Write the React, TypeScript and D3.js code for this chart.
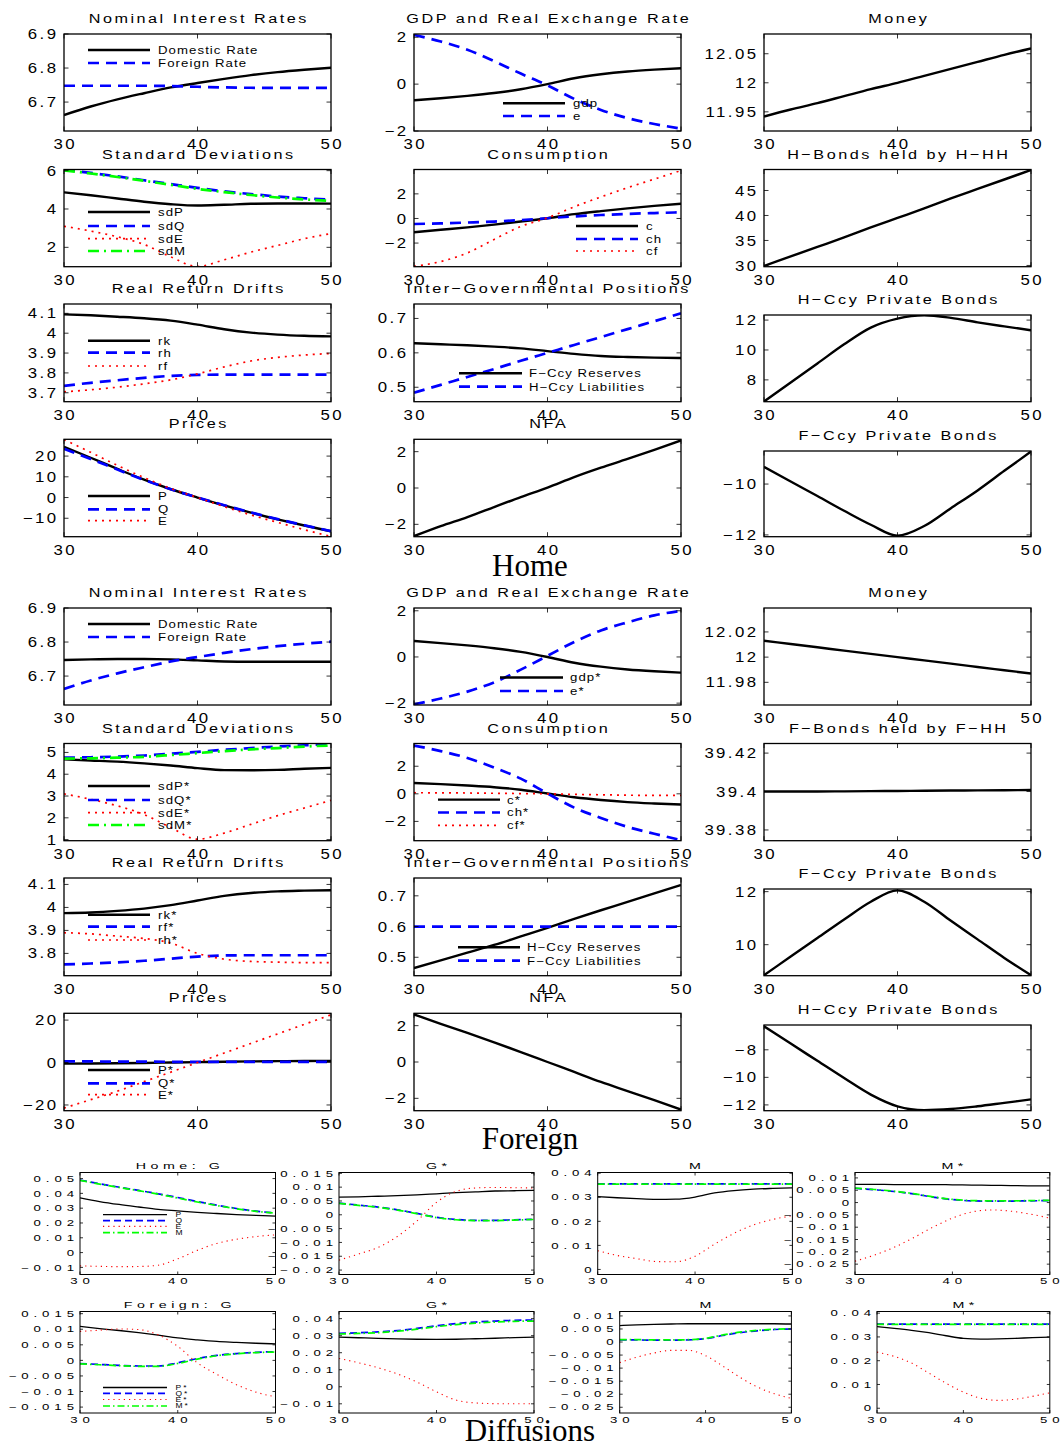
import React from "react";
import * as d3 from "d3";

// periods on the horizontal axis (every second period is sampled)
const periods = [30, 32, 34, 36, 38, 40, 42, 44, 46, 48, 50];
const xTicks = [30, 40, 50];

// ---------- Home ----------
const hNomDomestic = [6.662, 6.687, 6.708, 6.726, 6.743, 6.756, 6.768, 6.779, 6.788, 6.795, 6.801];
const hNomForeign = [6.748, 6.748, 6.748, 6.748, 6.747, 6.745, 6.743, 6.742, 6.742, 6.742, 6.742];
const hGdp = [-0.69, -0.6, -0.5, -0.38, -0.22, 0.0, 0.25, 0.42, 0.54, 0.62, 0.68];
const hExch = [2.1, 1.82, 1.47, 0.98, 0.45, -0.05, -0.63, -1.1, -1.45, -1.7, -1.9];
const hMoney = [11.942, 11.954, 11.965, 11.977, 11.989, 12.0, 12.012, 12.024, 12.036, 12.048, 12.059];
const hSdP = [4.87, 4.72, 4.55, 4.38, 4.25, 4.18, 4.22, 4.27, 4.29, 4.29, 4.28];
const hSdQ = [6.05, 5.88, 5.7, 5.5, 5.3, 5.1, 4.92, 4.78, 4.65, 4.56, 4.48];
const hSdE = [3.1, 2.85, 2.55, 2.15, 1.5, 1.0, 1.35, 1.75, 2.1, 2.45, 2.72];
const hSdM = [6.02, 5.85, 5.67, 5.47, 5.26, 5.05, 4.88, 4.73, 4.6, 4.5, 4.42];
const hC = [-1.12, -0.92, -0.72, -0.5, -0.25, 0.02, 0.35, 0.6, 0.82, 1.02, 1.2];
const hCh = [-0.45, -0.4, -0.33, -0.25, -0.13, 0.02, 0.17, 0.28, 0.37, 0.44, 0.5];
const hCf = [-3.9, -3.5, -2.8, -1.7, -0.65, 0.05, 0.95, 1.75, 2.5, 3.2, 3.9];
const hBondsHH = [29.9, 31.8, 33.7, 35.6, 37.6, 39.5, 41.4, 43.4, 45.3, 47.2, 49.1];
const hRk = [4.095, 4.09, 4.083, 4.075, 4.063, 4.043, 4.02, 4.003, 3.993, 3.987, 3.984];
const hRh = [3.735, 3.75, 3.763, 3.775, 3.785, 3.79, 3.791, 3.791, 3.791, 3.791, 3.791];
const hRf = [3.705, 3.715, 3.728, 3.745, 3.765, 3.795, 3.83, 3.86, 3.878, 3.89, 3.898];
const hResF = [0.628, 0.625, 0.622, 0.618, 0.613, 0.605, 0.597, 0.591, 0.588, 0.586, 0.585];
const hLiabH = [0.484, 0.507, 0.53, 0.553, 0.577, 0.6, 0.623, 0.646, 0.669, 0.692, 0.715];
const hPrivH = [6.55, 7.83, 9.1, 10.38, 11.5, 12.1, 12.32, 12.15, 11.85, 11.58, 11.32];
const hP = [24.5, 19.2, 13.8, 8.6, 4.0, 0, -3.8, -7.3, -10.5, -13.5, -16.3];
const hQ = [23.5, 18.6, 13.5, 8.5, 4.0, 0, -3.7, -7.2, -10.4, -13.4, -16.2];
const hE = [28, 21.8, 15.5, 9.6, 4.4, 0, -4.4, -8.4, -12, -15.5, -18.8];
const hNfa = [-2.65, -2.1, -1.6, -1.05, -0.5, 0.02, 0.6, 1.12, 1.6, 2.1, 2.62];
const hPrivF = [-9.32, -9.9, -10.47, -11.05, -11.6, -12.03, -11.65, -10.95, -10.25, -9.48, -8.72];

// ---------- Foreign ----------
const fNomDomestic = [6.747, 6.749, 6.75, 6.75, 6.749, 6.746, 6.743, 6.742, 6.742, 6.742, 6.742];
const fNomForeign = [6.662, 6.687, 6.708, 6.726, 6.743, 6.756, 6.768, 6.779, 6.788, 6.795, 6.801];
const fGdp = [0.69, 0.6, 0.5, 0.38, 0.22, 0.0, -0.25, -0.42, -0.54, -0.62, -0.68];
const fExch = [-2.05, -1.8, -1.5, -1.1, -0.55, 0.05, 0.65, 1.15, 1.5, 1.8, 2.0];
const fMoney = [12.013, 12.0104, 12.0078, 12.0052, 12.0026, 12.0, 11.9974, 11.9948, 11.9922, 11.9896, 11.987];
const fSdP = [4.68, 4.63, 4.58, 4.5, 4.4, 4.28, 4.19, 4.18, 4.2, 4.25, 4.29];
const fSdQ = [4.76, 4.78, 4.81, 4.86, 4.94, 5.03, 5.12, 5.2, 5.27, 5.33, 5.38];
const fSdE = [3.1, 2.85, 2.55, 2.15, 1.55, 1.02, 1.3, 1.7, 2.1, 2.45, 2.8];
const fSdM = [4.72, 4.73, 4.76, 4.8, 4.88, 4.97, 5.06, 5.14, 5.2, 5.27, 5.32];
const fC = [0.78, 0.7, 0.6, 0.48, 0.3, 0.02, -0.25, -0.45, -0.6, -0.7, -0.78];
const fCh = [3.5, 3.1, 2.6, 1.9, 1.1, 0.02, -1.0, -1.75, -2.4, -2.9, -3.35];
const fCf = [0.08, 0.07, 0.06, 0.04, 0.02, 0.0, -0.04, -0.07, -0.1, -0.11, -0.12];
const fBondsHH = [39.4, 39.4, 39.4, 39.4001, 39.4002, 39.4003, 39.4004, 39.4005, 39.4006, 39.4007, 39.4008];
const fRk = [3.975, 3.978, 3.985, 3.995, 4.01, 4.03, 4.05, 4.063, 4.07, 4.073, 4.075];
const fRf = [3.752, 3.756, 3.761, 3.768, 3.777, 3.786, 3.791, 3.792, 3.792, 3.792, 3.792];
const fRh = [3.89, 3.885, 3.875, 3.865, 3.845, 3.8, 3.775, 3.765, 3.762, 3.76, 3.76];
const fResH = [0.465, 0.49, 0.515, 0.54, 0.568, 0.596, 0.625, 0.653, 0.68, 0.708, 0.735];
const fLiabF = [0.6, 0.6, 0.6, 0.6, 0.6, 0.6, 0.6, 0.6, 0.6, 0.6, 0.6];
const fPrivF = [8.85, 9.55, 10.25, 10.95, 11.62, 12.05, 11.62, 10.9, 10.2, 9.5, 8.85];
const fP = [-0.5, -0.45, -0.35, -0.2, 0.0, 0.2, 0.4, 0.55, 0.65, 0.75, 0.8];
const fQ = [0.5, 0.5, 0.45, 0.4, 0.35, 0.3, 0.3, 0.3, 0.3, 0.3, 0.3];
const fE = [-21.5, -17.5, -13.5, -9, -4.5, 0, 4.5, 9, 13.5, 18, 22.5];
const fNfa = [2.62, 2.1, 1.6, 1.08, 0.55, 0.0, -0.55, -1.1, -1.6, -2.1, -2.62];
const fPrivH = [-6.3, -7.55, -8.8, -10.05, -11.25, -12.1, -12.38, -12.3, -12.1, -11.85, -11.6];

// ---------- Diffusions ----------
const dHomeG_P = [0.037, 0.0345, 0.0325, 0.0308, 0.0292, 0.0282, 0.0272, 0.0264, 0.0257, 0.0251, 0.0246];
const dHomeG_Q = [0.049, 0.0465, 0.0442, 0.042, 0.0397, 0.0372, 0.0345, 0.032, 0.0298, 0.028, 0.0268];
const dHomeG_E = [-0.009, -0.0093, -0.0095, -0.0094, -0.0085, -0.0042, 0.0015, 0.0062, 0.009, 0.0108, 0.012];
const dHomeG_M = [0.0488, 0.0463, 0.044, 0.0418, 0.0395, 0.0368, 0.0342, 0.0318, 0.0296, 0.0279, 0.0266];
const dHomeGs_P = [0.0064, 0.0065, 0.0067, 0.0069, 0.0072, 0.0076, 0.008, 0.0083, 0.0086, 0.0087, 0.0088];
const dHomeGs_Q = [0.0042, 0.0035, 0.0028, 0.0018, 0.0005, -0.0009, -0.0017, -0.002, -0.002, -0.0018, -0.0016];
const dHomeGs_E = [-0.0164, -0.0142, -0.0118, -0.0078, -0.0022, 0.0045, 0.0085, 0.0097, 0.0099, 0.0098, 0.0097];
const dHomeGs_M = [0.0041, 0.0034, 0.0027, 0.0017, 0.0004, -0.001, -0.0018, -0.0021, -0.0021, -0.0019, -0.0017];
const dHomeM_P = [0.0303, 0.0298, 0.0294, 0.0291, 0.0292, 0.0301, 0.0318, 0.0328, 0.0334, 0.0337, 0.0339];
const dHomeM_Q = [0.0356, 0.0356, 0.0356, 0.0356, 0.0356, 0.0356, 0.0356, 0.0356, 0.0356, 0.0356, 0.0356];
const dHomeM_E = [0.0078, 0.0058, 0.0045, 0.0033, 0.0032, 0.0055, 0.0105, 0.015, 0.0185, 0.0208, 0.0223];
const dHomeM_M = [0.0355, 0.0355, 0.0355, 0.0355, 0.0355, 0.0355, 0.0355, 0.0355, 0.0355, 0.0355, 0.0355];
const dHomeMs_P = [0.0074, 0.0074, 0.0073, 0.0073, 0.0073, 0.0072, 0.0071, 0.007, 0.0069, 0.0068, 0.0068];
const dHomeMs_Q = [0.0058, 0.0052, 0.0045, 0.0035, 0.0022, 0.0012, 0.0007, 0.0006, 0.0006, 0.0007, 0.0008];
const dHomeMs_E = [-0.0238, -0.0213, -0.0182, -0.0143, -0.01, -0.0063, -0.0038, -0.003, -0.0035, -0.0047, -0.0063];
const dHomeMs_M = [0.0059, 0.0053, 0.0046, 0.0036, 0.0023, 0.0013, 0.0008, 0.0007, 0.0007, 0.0008, 0.0009];
const dForG_P = [0.0109, 0.0102, 0.0096, 0.0089, 0.0081, 0.0072, 0.0066, 0.0061, 0.0058, 0.0055, 0.0053];
const dForG_Q = [-0.001, -0.0013, -0.0016, -0.0018, -0.0018, -0.0008, 0.0006, 0.0016, 0.0022, 0.0026, 0.0028];
const dForG_E = [0.0093, 0.0097, 0.0101, 0.0099, 0.0082, 0.0045, -0.0008, -0.0045, -0.0078, -0.0102, -0.0117];
const dForG_M = [-0.0011, -0.0014, -0.0017, -0.0019, -0.0019, -0.001, 0.0004, 0.0015, 0.0021, 0.0025, 0.0027];
const dForGs_P = [0.0292, 0.0288, 0.0284, 0.0281, 0.0279, 0.0278, 0.0279, 0.0282, 0.0285, 0.0289, 0.0292];
const dForGs_Q = [0.0314, 0.0317, 0.0322, 0.033, 0.0343, 0.0358, 0.0371, 0.038, 0.0386, 0.039, 0.0392];
const dForGs_E = [0.0166, 0.0141, 0.0112, 0.0075, 0.0028, -0.003, -0.0078, -0.0095, -0.0099, -0.01, -0.01];
const dForGs_M = [0.031, 0.0313, 0.0318, 0.0326, 0.0338, 0.0353, 0.0365, 0.0374, 0.038, 0.0384, 0.0386];
const dForM_P = [0.0063, 0.0066, 0.0068, 0.0069, 0.007, 0.007, 0.007, 0.007, 0.007, 0.007, 0.0069];
const dForM_Q = [0.0008, 0.0008, 0.0007, 0.0007, 0.0008, 0.0013, 0.0025, 0.0036, 0.0043, 0.0048, 0.005];
const dForM_E = [-0.0079, -0.0058, -0.0042, -0.0032, -0.0032, -0.0052, -0.0092, -0.0135, -0.0172, -0.0198, -0.0216];
const dForM_M = [0.0009, 0.0009, 0.0008, 0.0008, 0.0009, 0.0014, 0.0027, 0.0038, 0.0045, 0.0049, 0.0051];
const dForMs_P = [0.0343, 0.0336, 0.0328, 0.0318, 0.0305, 0.0294, 0.0291, 0.0292, 0.0294, 0.0297, 0.0299];
const dForMs_Q = [0.0354, 0.0354, 0.0354, 0.0354, 0.0354, 0.0354, 0.0354, 0.0354, 0.0354, 0.0354, 0.0354];
const dForMs_E = [0.0236, 0.0218, 0.019, 0.0148, 0.0105, 0.0068, 0.0042, 0.0033, 0.0038, 0.005, 0.0065];
const dForMs_M = [0.0353, 0.0353, 0.0353, 0.0353, 0.0353, 0.0353, 0.0353, 0.0353, 0.0353, 0.0353, 0.0353];

const FONT = "'Liberation Sans', Arial, Helvetica, sans-serif";
const SERIF = "'Liberation Serif', 'Times New Roman', serif";

type Sty = "k" | "b" | "r" | "g";
interface Series { values: number[]; sty: Sty; label?: string }
interface Legend { x1: number; x2: number; tx: number; ys: number[] }
interface Panel {
  title: string;
  left: number; right: number; top: number; bottom: number;
  yDomain: [number, number];
  yTicks: number[];
  series: Series[];
  legend?: Legend;
  small?: boolean;
}

function lineStyle(s: Sty, sm: boolean) {
  if (s === "k") return { stroke: "#000", strokeWidth: sm ? 1.3 : 2.4 };
  if (s === "b") return { stroke: "#0000ff", strokeWidth: sm ? 1.7 : 2.7, strokeDasharray: sm ? "7 4" : "11 7" };
  if (s === "r") return { stroke: "#ff0000", strokeWidth: sm ? 1.1 : 1.7, strokeDasharray: sm ? "1.2 4" : "2 5" };
  return { stroke: "#00ff00", strokeWidth: sm ? 1.7 : 2.7, strokeDasharray: sm ? "7 3 1.5 3" : "11 5 2 5" };
}

const fmt = (v: number) => String(v).replace("-", "\u2212");

// horizontally stretched label, like the printed figure's fonts
function T({ x, y, anchor = "start", size, ls, sx, dy, children, family = FONT }: {
  x: number; y: number; anchor?: "start" | "middle" | "end"; size: number; ls: number; sx: number; dy?: string;
  children: React.ReactNode; family?: string;
}) {
  // compensate trailing letter-spacing
  const shift = anchor === "end" ? ls * sx : anchor === "middle" ? (ls * sx) / 2 : 0;
  return (
    <g transform={`translate(${x + shift},${y}) scale(${sx},1)`}>
      <text textAnchor={anchor} fontSize={size} letterSpacing={ls} dy={dy} fontFamily={family} fill="#000">{children}</text>
    </g>
  );
}

// layout
const cols: [number, number][] = [[64, 331], [414, 681], [764, 1031]];
const rows: [number, number][] = [[34, 131], [169.5, 266.7], [304, 401.7], [439.3, 536.7]];
const rows3: [number, number][] = [[34, 131], [169.5, 266.7], [315, 401.7], [451, 536.7]];
const OFF = 574;

function mk(title: string, c: number, r: number, off: number, yDomain: [number, number], yTicks: number[], series: Series[], legend?: Legend): Panel {
  const rr = c === 2 ? rows3[r] : rows[r];
  return {
    title, left: cols[c][0], right: cols[c][1], top: rr[0] + off, bottom: rr[1] + off, yDomain, yTicks, series,
    legend: legend ? { ...legend, ys: legend.ys.map(y => y + off) } : undefined,
  };
}

const mainPanels: Panel[] = [
  mk("Nominal Interest Rates", 0, 0, 0, [6.615, 6.9], [6.7, 6.8, 6.9],
    [{ values: hNomDomestic, sty: "k", label: "Domestic Rate" }, { values: hNomForeign, sty: "b", label: "Foreign Rate" }],
    { x1: 88, x2: 150, tx: 158, ys: [50, 63] }),
  mk("GDP and Real Exchange Rate", 1, 0, 0, [-2.0, 2.14], [-2, 0, 2],
    [{ values: hGdp, sty: "k", label: "gdp" }, { values: hExch, sty: "b", label: "e" }],
    { x1: 503, x2: 565, tx: 573, ys: [103.3, 116] }),
  mk("Money", 2, 0, 0, [11.917, 12.084], [11.95, 12, 12.05], [{ values: hMoney, sty: "k" }]),
  mk("Standard Deviations", 0, 1, 0, [0.99, 6.06], [2, 4, 6],
    [{ values: hSdP, sty: "k", label: "sdP" }, { values: hSdQ, sty: "b", label: "sdQ" }, { values: hSdE, sty: "r", label: "sdE" }, { values: hSdM, sty: "g", label: "sdM" }],
    { x1: 88, x2: 150, tx: 158, ys: [212, 226, 238.7, 251] }),
  mk("Consumption", 1, 1, 0, [-3.92, 3.98], [-2, 0, 2],
    [{ values: hC, sty: "k", label: "c" }, { values: hCh, sty: "b", label: "ch" }, { values: hCf, sty: "r", label: "cf" }],
    { x1: 576, x2: 638, tx: 646, ys: [226, 239, 251] }),
  mk("H\u2212Bonds held by H\u2212HH", 2, 1, 0, [29.75, 49.2], [30, 35, 40, 45], [{ values: hBondsHH, sty: "k" }]),
  mk("Real Return Drifts", 0, 2, 0, [3.655, 4.147], [3.7, 3.8, 3.9, 4, 4.1],
    [{ values: hRk, sty: "k", label: "rk" }, { values: hRh, sty: "b", label: "rh" }, { values: hRf, sty: "r", label: "rf" }],
    { x1: 88, x2: 150, tx: 158, ys: [340.7, 352.7, 366] }),
  mk("Inter\u2212Governmental Positions", 1, 2, 0, [0.458, 0.742], [0.5, 0.6, 0.7],
    [{ values: hResF, sty: "k", label: "F\u2212Ccy Reserves" }, { values: hLiabH, sty: "b", label: "H\u2212Ccy Liabilities" }],
    { x1: 459, x2: 522, tx: 529, ys: [373.3, 386.7] }),
  mk("H\u2212Ccy Private Bonds", 2, 2, 0, [6.54, 12.34], [8, 10, 12], [{ values: hPrivH, sty: "k" }]),
  mk("Prices", 0, 3, 0, [-18.9, 28.1], [-10, 0, 10, 20],
    [{ values: hP, sty: "k", label: "P" }, { values: hQ, sty: "b", label: "Q" }, { values: hE, sty: "r", label: "E" }],
    { x1: 88, x2: 150, tx: 158, ys: [496, 509.3, 520.7] }),
  mk("NFA", 1, 3, 0, [-2.68, 2.68], [-2, 0, 2], [{ values: hNfa, sty: "k" }]),
  mk("F\u2212Ccy Private Bonds", 2, 3, 0, [-12.07, -8.7], [-12, -10], [{ values: hPrivF, sty: "k" }]),

  mk("Nominal Interest Rates", 0, 0, OFF, [6.615, 6.9], [6.7, 6.8, 6.9],
    [{ values: fNomDomestic, sty: "k", label: "Domestic Rate" }, { values: fNomForeign, sty: "b", label: "Foreign Rate" }],
    { x1: 88, x2: 150, tx: 158, ys: [50, 63] }),
  mk("GDP and Real Exchange Rate", 1, 0, OFF, [-2.08, 2.12], [-2, 0, 2],
    [{ values: fGdp, sty: "k", label: "gdp*" }, { values: fExch, sty: "b", label: "e*" }],
    { x1: 500, x2: 563, tx: 570, ys: [103.5, 117] }),
  mk("Money", 2, 0, OFF, [11.962, 12.039], [11.98, 12, 12.02], [{ values: fMoney, sty: "k" }]),
  mk("Standard Deviations", 0, 1, OFF, [0.95, 5.41], [1, 2, 3, 4, 5],
    [{ values: fSdP, sty: "k", label: "sdP*" }, { values: fSdQ, sty: "b", label: "sdQ*" }, { values: fSdE, sty: "r", label: "sdE*" }, { values: fSdM, sty: "g", label: "sdM*" }],
    { x1: 88, x2: 150, tx: 158, ys: [212, 226, 238.7, 251] }),
  mk("Consumption", 1, 1, OFF, [-3.4, 3.65], [-2, 0, 2],
    [{ values: fC, sty: "k", label: "c*" }, { values: fCh, sty: "b", label: "ch*" }, { values: fCf, sty: "r", label: "cf*" }],
    { x1: 438, x2: 500, tx: 507, ys: [225.6, 238.5, 251.4] }),
  mk("F\u2212Bonds held by F\u2212HH", 2, 1, OFF, [39.3744, 39.425], [39.38, 39.4, 39.42], [{ values: fBondsHH, sty: "k" }]),
  mk("Real Return Drifts", 0, 2, OFF, [3.703, 4.128], [3.8, 3.9, 4, 4.1],
    [{ values: fRk, sty: "k", label: "rk*" }, { values: fRf, sty: "b", label: "rf*" }, { values: fRh, sty: "r", label: "rh*" }],
    { x1: 88, x2: 150, tx: 158, ys: [340.7, 352.7, 366] }),
  mk("Inter\u2212Governmental Positions", 1, 2, OFF, [0.44, 0.758], [0.5, 0.6, 0.7],
    [{ values: fResH, sty: "k", label: "H\u2212Ccy Reserves" }, { values: fLiabF, sty: "b", label: "F\u2212Ccy Liabilities" }],
    { x1: 458, x2: 520, tx: 527, ys: [373.3, 386.7] }),
  mk("F\u2212Ccy Private Bonds", 2, 2, OFF, [8.83, 12.1], [10, 12], [{ values: fPrivF, sty: "k" }]),
  mk("Prices", 0, 3, OFF, [-22.7, 23.2], [-20, 0, 20],
    [{ values: fP, sty: "k", label: "P*" }, { values: fQ, sty: "b", label: "Q*" }, { values: fE, sty: "r", label: "E*" }],
    { x1: 88, x2: 150, tx: 158, ys: [496, 509.3, 520.7] }),
  mk("NFA", 1, 3, OFF, [-2.68, 2.68], [-2, 0, 2], [{ values: fNfa, sty: "k" }]),
  mk("H\u2212Ccy Private Bonds", 2, 3, OFF, [-12.42, -6.2], [-12, -10, -8], [{ values: fPrivH, sty: "k" }]),
];

function dp(title: string, left: number, right: number, row: number, yDomain: [number, number], yTicks: number[], vals: number[][], labels?: string[]): Panel {
  const [top, bottom] = row === 0 ? [1172.5, 1274.5] : [1311.5, 1413];
  const stys: Sty[] = ["k", "b", "r", "g"];
  const legendYs = row === 0 ? [1214.7, 1220.6, 1226.4, 1232.6] : [1387.5, 1393.3, 1399.5, 1406];
  return {
    title, left, right, top, bottom, yDomain, yTicks, small: true,
    series: vals.map((v, i) => ({ values: v, sty: stys[i], label: labels ? labels[i] : undefined })),
    legend: labels ? { x1: 103, x2: 167, tx: 175.6, ys: legendYs } : undefined,
  };
}

const diffPanels: Panel[] = [
  dp("Home: G", 80, 275.5, 0, [-0.0148, 0.0541], [-0.01, 0, 0.01, 0.02, 0.03, 0.04, 0.05],
    [dHomeG_P, dHomeG_Q, dHomeG_E, dHomeG_M], ["P", "Q", "E", "M"]),
  dp("G*", 339, 534, 0, [-0.0216, 0.0153], [-0.02, -0.015, -0.01, -0.005, 0, 0.005, 0.01, 0.015],
    [dHomeGs_P, dHomeGs_Q, dHomeGs_E, dHomeGs_M]),
  dp("M", 597.7, 792.4, 0, [-0.0021, 0.0403], [0, 0.01, 0.02, 0.03, 0.04],
    [dHomeM_P, dHomeM_Q, dHomeM_E, dHomeM_M]),
  dp("M*", 855, 1049.8, 0, [-0.0292, 0.0122], [-0.025, -0.02, -0.015, -0.01, -0.005, 0, 0.005, 0.01],
    [dHomeMs_P, dHomeMs_Q, dHomeMs_E, dHomeMs_M]),
  dp("Foreign: G", 80, 275.5, 1, [-0.0169, 0.0157], [-0.015, -0.01, -0.005, 0, 0.005, 0.01, 0.015],
    [dForG_P, dForG_Q, dForG_E, dForG_M], ["P*", "Q*", "E*", "M*"]),
  dp("G*", 339, 534, 1, [-0.0154, 0.0442], [-0.01, 0, 0.01, 0.02, 0.03, 0.04],
    [dForGs_P, dForGs_Q, dForGs_E, dForGs_M]),
  dp("M", 619.7, 791.4, 1, [-0.0272, 0.0117], [-0.025, -0.02, -0.015, -0.01, -0.005, 0, 0.005, 0.01],
    [dForM_P, dForM_Q, dForM_E, dForM_M]),
  dp("M*", 877, 1049.8, 1, [-0.002, 0.0407], [0, 0.01, 0.02, 0.03, 0.04],
    [dForMs_P, dForMs_Q, dForMs_E, dForMs_M]),
];

function PanelView({ p, id }: { p: Panel; id: string }) {
  const sm = !!p.small;
  const x = d3.scaleLinear().domain([30, 50]).range([p.left, p.right]);
  const y = d3.scaleLinear().domain(p.yDomain).range([p.bottom, p.top]);
  const line = d3.line<number>().x((_, i) => x(periods[i])).y(d => y(d)).curve(d3.curveMonotoneX);
  const tl = sm ? 3 : 4.5;
  // tick label font
  const tk = sm ? { size: 8.8, ls: 3.3, sx: 1.5 } : { size: 14, ls: 2, sx: 1.2 };
  // title font
  const tt = sm ? { size: 9.5, ls: 3, sx: 1.5 } : { size: 13.5, ls: 2.1, sx: 1.2 };
  const lg = sm ? { size: 6.5, ls: 1.5, sx: 1.3 } : { size: 11, ls: 0.9, sx: 1.2 };
  const legendSeries = p.series.filter(s => s.label);
  return (
    <g>
      <clipPath id={id}>
        <rect x={p.left} y={p.top} width={p.right - p.left} height={p.bottom - p.top} />
      </clipPath>
      <g clipPath={`url(#${id})`}>
        {p.series.map((s, i) => (
          <path key={i} d={line(s.values) || ""} fill="none" strokeLinejoin="round" {...lineStyle(s.sty, sm)} />
        ))}
      </g>
      {p.legend && legendSeries.map((s, i) => (
        <g key={"lg" + i}>
          <line x1={p.legend!.x1} x2={p.legend!.x2} y1={p.legend!.ys[i]} y2={p.legend!.ys[i]} {...lineStyle(s.sty, sm)} />
          <T x={p.legend!.tx} y={p.legend!.ys[i]} dy="0.36em" {...lg}>{s.label}</T>
        </g>
      ))}
      <rect x={p.left} y={p.top} width={p.right - p.left} height={p.bottom - p.top} fill="none" stroke="#000" strokeWidth={sm ? 1 : 1.3} />
      {xTicks.map(t => (
        <g key={"xt" + t}>
          <line x1={x(t)} x2={x(t)} y1={p.bottom} y2={p.bottom - tl} stroke="#000" strokeWidth={0.8} />
          <line x1={x(t)} x2={x(t)} y1={p.top} y2={p.top + tl} stroke="#000" strokeWidth={0.8} />
          <T x={x(t)} y={p.bottom + (sm ? 9.5 : 18)} anchor="middle" {...tk}>{t}</T>
        </g>
      ))}
      {p.yTicks.map(t => (
        <g key={"yt" + t}>
          <line x1={p.left} x2={p.left + tl} y1={y(t)} y2={y(t)} stroke="#000" strokeWidth={0.8} />
          <line x1={p.right} x2={p.right - tl} y1={y(t)} y2={y(t)} stroke="#000" strokeWidth={0.8} />
          <T x={p.left - (sm ? 6 : 8)} y={y(t)} dy="0.36em" anchor="end" {...tk}>{fmt(t)}</T>
        </g>
      ))}
      <T x={(p.left + p.right) / 2} y={p.top - (sm ? 4 : 11)} anchor="middle" {...tt}>{p.title}</T>
    </g>
  );
}

export default function App() {
  return (
    <svg width={1061} height={1447} style={{ position: "absolute", left: 0, top: 0, background: "#fff" }}>
      <rect width={1061} height={1447} fill="#fff" />
      {mainPanels.map((p, i) => <PanelView key={"m" + i} p={p} id={"clipm" + i} />)}
      {diffPanels.map((p, i) => <PanelView key={"d" + i} p={p} id={"clipd" + i} />)}
      <text x={530} y={576} textAnchor="middle" fontSize={31} fontFamily={SERIF} fill="#000">Home</text>
      <text x={530} y={1149} textAnchor="middle" fontSize={31} fontFamily={SERIF} fill="#000">Foreign</text>
      <text x={530} y={1441} textAnchor="middle" fontSize={31} fontFamily={SERIF} fill="#000">Diffusions</text>
    </svg>
  );
}
